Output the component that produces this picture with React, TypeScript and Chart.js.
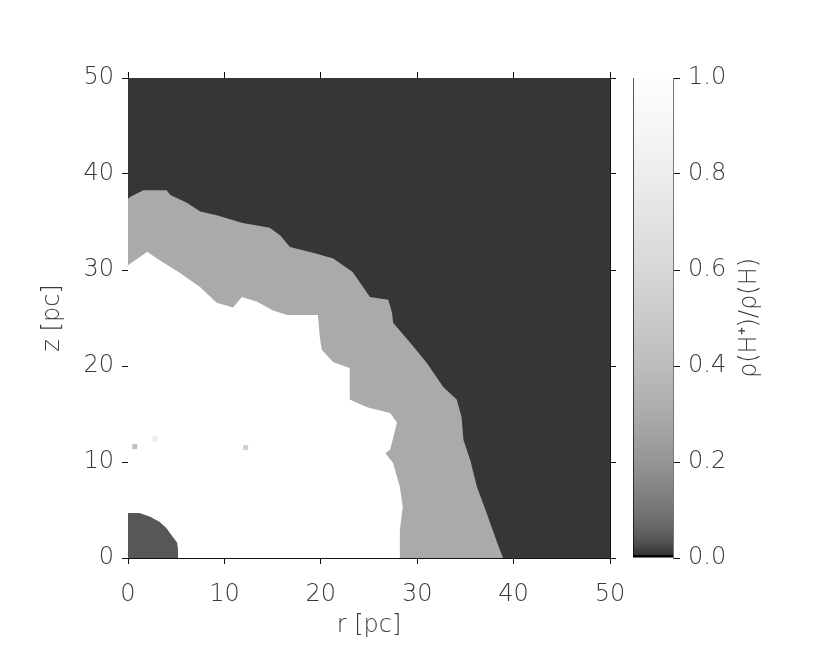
import { useEffect, useRef } from 'react';
import { Chart, registerables } from 'chart.js';

Chart.register(...registerables);

// Outer edge of the partially ionized shell (r [pc], z [pc])
const rShell = [0, 0.2, 1.6, 4.0, 4.4, 6.1, 7.5, 9.2, 11.9, 14.7, 15.8, 16.8, 19.2, 21.3, 22.0, 23.3, 24.4, 25.1, 27.0, 27.4, 27.5, 29.3, 31.0, 32.7, 34.1, 34.6, 34.8, 35.5, 36.2, 37.2, 38.3, 38.9];
const zShell = [37.4, 37.6, 38.3, 38.3, 37.8, 37.0, 36.1, 35.7, 34.9, 34.4, 33.6, 32.4, 31.8, 31.2, 30.7, 29.8, 28.2, 27.2, 26.9, 25.5, 24.5, 22.4, 20.3, 17.8, 16.5, 14.7, 12.3, 10.2, 7.4, 4.7, 1.6, 0];

// Edge of the fully ionized region
const rIon = [0, 2.0, 3.0, 5.4, 7.5, 9.2, 10.9, 11.8, 13.4, 15.0, 16.5, 19.7, 19.9, 20.1, 21.3, 23.0, 23.0, 24.8, 27.2, 27.9, 27.2, 26.7, 27.5, 28.2, 28.5, 28.2, 28.2, 28.6];
const zIon = [30.5, 31.9, 31.2, 29.7, 28.2, 26.6, 26.1, 27.2, 26.7, 25.8, 25.3, 25.3, 23.0, 21.7, 20.4, 19.8, 16.5, 15.7, 15.1, 14.1, 11.3, 10.9, 9.9, 7.4, 5.3, 2.9, 0, 0];

// Central neutral clump
const rCore = [0, 1.2, 2.3, 3.3, 4.0, 4.5, 5.1, 5.2, 5.2];
const zCore = [4.7, 4.7, 4.3, 3.75, 3.1, 2.4, 1.6, 0.8, 0];

// Small specks inside the ionized region
const rSpeck = [0.7, 2.8, 12.2];
const zSpeck = [11.6, 12.4, 11.5];
const speckColors = ['#bdbdbd', '#ececec', '#cfcfcf'];

// Neutral background (top edge of the map)
const rBack = [0, 50];
const zBack = [50, 50];

const xTicks = [0, 10, 20, 30, 40, 50];
const yTicks = [0, 10, 20, 30, 40, 50];
const cbTicks = [0, 0.2, 0.4, 0.6, 0.8, 1.0];

// Colour bar: value -> gray level
const cbValues = [0, 0.005, 0.01, 0.03, 0.06, 0.1, 0.2, 0.3, 0.4, 0.5, 0.6, 0.7, 0.8, 0.9, 1];
const cbGrays = [0, 44, 55, 79, 100, 118, 149, 171, 188, 202, 215, 226, 237, 246, 253];

const FONT = { family: "'DejaVu Sans', sans-serif", size: 24, weight: 200 as any };
const TXT = '#3a3a3a';

const pts = (xs: number[], ys: number[]) => xs.map((x, i) => ({ x, y: ys[i] }));
const toTicks = (arr: number[]) => (s: any) => {
  s.ticks = arr.map((v) => ({ value: v }));
};

export default function App() {
  const mainRef = useRef<HTMLCanvasElement>(null);
  const cbRef = useRef<HTMLCanvasElement>(null);

  useEffect(() => {
    const gridOpts = { drawOnChartArea: false, drawTicks: true, tickLength: 6, color: '#111', lineWidth: 1 };
    const borderOpts = { display: true, color: '#111', width: 1 };

    const fillSet = (label: string, xs: number[], ys: number[], color: string) => ({
      label,
      data: pts(xs, ys),
      backgroundColor: color,
      borderColor: 'rgba(0,0,0,0)',
      borderWidth: 0,
      pointRadius: 0,
      fill: 'origin',
      tension: 0,
    });

    const main = new Chart(mainRef.current!, {
      type: 'line',
      data: {
        datasets: [
          {
            label: 'specks',
            data: pts(rSpeck, zSpeck),
            showLine: false,
            pointStyle: 'rect',
            pointRadius: 3.5,
            pointBackgroundColor: speckColors,
            pointBorderWidth: 0,
            pointBorderColor: speckColors,
            fill: false,
          } as any,
          fillSet('core', rCore, zCore, 'rgb(87,87,87)'),
          fillSet('ionized', rIon, zIon, '#ffffff'),
          fillSet('shell', rShell, zShell, 'rgb(170,170,170)'),
          fillSet('neutral', rBack, zBack, 'rgb(54,54,54)'),
        ],
      },
      options: {
        responsive: false,
        animation: false,
        devicePixelRatio: 1,
        layout: { padding: 0 },
        plugins: { legend: { display: false }, tooltip: { enabled: false } },
        scales: {
          x: {
            type: 'linear',
            position: 'bottom',
            min: 0,
            max: 50,
            z: 1,
            afterBuildTicks: toTicks(xTicks),
            afterFit: (s: any) => { s.height = 97; },
            grid: gridOpts,
            border: borderOpts,
            ticks: { font: FONT, color: TXT, padding: 16, maxRotation: 0 },
            title: { display: true, text: 'r [pc]', font: FONT, color: TXT, padding: { top: 0, bottom: 15 } },
          },
          x2: {
            type: 'linear',
            axis: 'x',
            position: 'top',
            min: 0,
            max: 50,
            z: 1,
            afterBuildTicks: toTicks(xTicks),
            afterFit: (s: any) => { s.height = 78; },
            grid: gridOpts,
            border: borderOpts,
            ticks: { display: false },
          },
          y: {
            type: 'linear',
            position: 'left',
            min: 0,
            max: 50,
            z: 1,
            afterBuildTicks: toTicks(yTicks),
            afterFit: (s: any) => { s.width = 128; },
            grid: gridOpts,
            border: borderOpts,
            ticks: { font: FONT, color: TXT, padding: 8 },
            title: { display: true, text: 'z [pc]', font: FONT, color: TXT, padding: { top: 38, bottom: 0 } },
          },
          y2: {
            type: 'linear',
            axis: 'y',
            position: 'right',
            min: 0,
            max: 50,
            z: 1,
            afterBuildTicks: toTicks(yTicks),
            afterFit: (s: any) => { s.width = 50; },
            grid: gridOpts,
            border: borderOpts,
            ticks: { display: false },
          },
        } as any,
      },
    });

    const cbTitle = {
      id: 'cbTitle',
      afterDraw(chart: any) {
        const { ctx } = chart;
        ctx.save();
        ctx.translate(120, 318);
        ctx.rotate(-Math.PI / 2);
        ctx.font = `200 24px 'DejaVu Sans', sans-serif`;
        ctx.fillStyle = TXT;
        ctx.textAlign = 'center';
        ctx.textBaseline = 'middle';
        ctx.fillText('\u03C1(H\u207A)/\u03C1(H)', 0, 0);
        ctx.restore();
      },
    };

    const cb = new Chart(cbRef.current!, {
      type: 'bar',
      data: {
        labels: ['ratio'],
        datasets: [
          {
            data: [1],
            backgroundColor: (c: any) => {
              const a = c.chart.chartArea;
              if (!a) return '#888';
              const g = c.chart.ctx.createLinearGradient(0, a.bottom, 0, a.top);
              cbValues.forEach((v, i) => {
                const k = cbGrays[i];
                g.addColorStop(v, `rgb(${k},${k},${k})`);
              });
              return g;
            },
            borderColor: '#000',
            borderWidth: { left: 1, bottom: 3, right: 0, top: 0 },
            borderSkipped: false,
            barPercentage: 1,
            categoryPercentage: 1,
          } as any,
        ],
      },
      options: {
        responsive: false,
        animation: false,
        devicePixelRatio: 1,
        layout: { padding: { left: 3, top: 78, bottom: 97, right: 0 } },
        plugins: { legend: { display: false }, tooltip: { enabled: false } },
        scales: {
          x: { display: false },
          y: {
            type: 'linear',
            position: 'right',
            min: 0,
            max: 1,
            afterBuildTicks: toTicks(cbTicks),
            afterFit: (s: any) => { s.width = 157; },
            grid: { drawOnChartArea: false, drawTicks: true, tickLength: 7, color: '#111' },
            border: { display: true, color: '#777', width: 1 },
            ticks: { font: FONT, color: TXT, padding: 8, callback: (v: any) => Number(v).toFixed(1) },
          },
        } as any,
      },
      plugins: [cbTitle],
    });

    return () => {
      main.destroy();
      cb.destroy();
    };
  }, []);

  return (
    <div style={{ position: 'absolute', left: 0, top: 0, width: 830, height: 655, background: '#fff' }}>
      <canvas ref={mainRef} width={660} height={655} style={{ position: 'absolute', left: 0, top: 0 }} />
      <canvas ref={cbRef} width={200} height={655} style={{ position: 'absolute', left: 630, top: 0 }} />
    </div>
  );
}
